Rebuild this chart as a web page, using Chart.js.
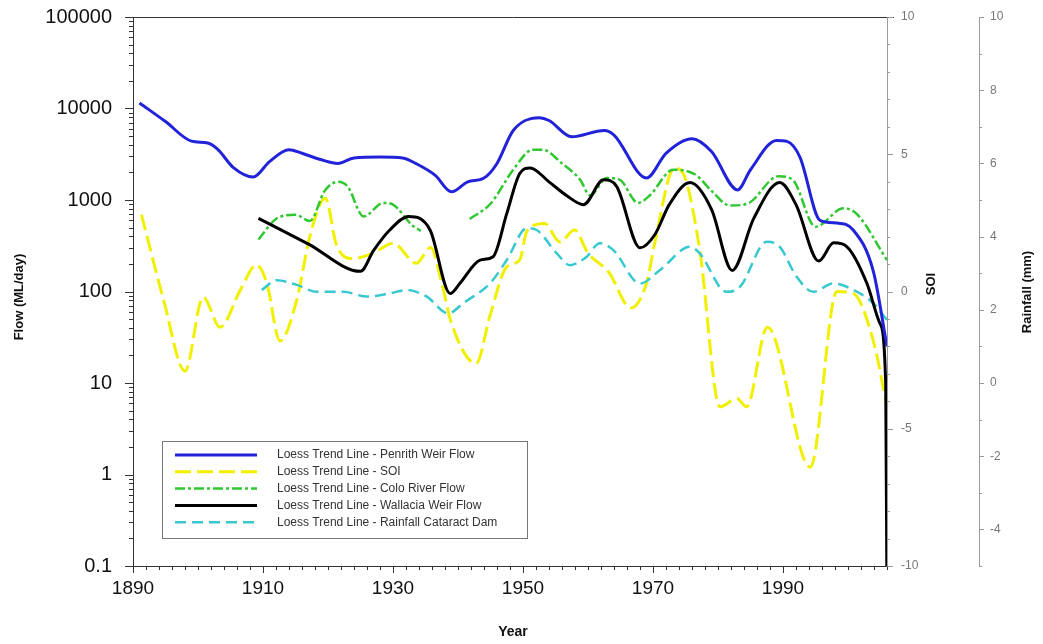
<!DOCTYPE html>
<html><head><meta charset="utf-8">
<script src="https://cdn.jsdelivr.net/npm/chart.js@4"></script>
<style>html,body{margin:0;padding:0;background:#fff;}</style>
</head><body>
<canvas id="c" width="1043" height="644"></canvas>
<script>
// ---------- data ----------
const xTickYears = [1890, 1910, 1930, 1950, 1970, 1990];
const flowTicks = [0.1, 1, 10, 100, 1000, 10000, 100000];
const soiTicks = [-10, -5, 0, 5, 10];
const rainTicks = [-4, -2, 0, 2, 4, 6, 8, 10];

const penrithYears = [1891,1895,1899,1901.5,1903,1905.5,1908.5,1911,1914,1916,1919,1921.5,1924,1928,1931.5,1933.5,1936.5,1939,1941.5,1944,1946,1948.5,1952.5,1954,1957.5,1962.5,1964,1969,1972,1976,1979,1983,1985,1989,1990.6,1992.6,1995.7,1998.3,2000.8,2003.9,2006];
const penrithFlow  = [11500,7200,4400,4200,3600,2240,1780,2630,3550,3240,2750,2510,2880,2950,2880,2510,1860,1230,1580,1740,2510,5750,7940,7400,4900,5750,5130,1740,3240,4680,3390,1290,2140,4470,4370,2950,600,560,470,166,25];

const soiYears = [1891.3,1894.7,1898,1900.8,1903.4,1906.5,1909,1910.6,1912.6,1915.2,1917.2,1919.6,1921.3,1923.8,1927,1930,1933.6,1935.8,1937.5,1939,1942.8,1944.9,1947.5,1949.5,1950.6,1953.3,1955.7,1957.9,1960,1963.2,1966.6,1969,1970.3,1973.3,1975,1977.2,1980.3,1982.9,1984.4,1987.6,1994.2,1998.3,2000.8,2003.9,2006];
const soiVals  = [2.8,-0.3,-2.9,-0.2,-1.3,0.05,0.97,0.3,-1.8,-0.3,2.0,3.4,1.7,1.2,1.4,1.76,1.03,1.6,0.3,-1.16,-2.62,-0.9,0.9,1.15,2.2,2.48,1.8,2.24,1.4,0.7,-0.6,0.3,1.8,4.5,4.1,1.5,-4.2,-3.9,-4.2,-1.3,-6.4,0.0,-0.07,-1.8,-4.2];

const coloYears = [1909.3,1912,1915,1917.2,1919.5,1921.5,1923,1925.5,1928.5,1930,1933,1934.3,1938,1941.8,1945,1948.5,1951.5,1953,1956,1958.8,1960.3,1962.9,1964.9,1967.7,1969.5,1973.1,1976.5,1979,1981.8,1984.5,1989.3,1991.5,1995,1999.3,2001.3,2006];
const coloFlow  = [370,620,690,590,1260,1580,1410,660,930,890,525,460,null,620,910,2140,3550,3550,2510,1660,1120,1740,1660,930,1120,2140,1900,1260,870,910,1820,1660,510,810,710,220];

const wallYears = [1909.3,1917,1925,1927,1929.5,1932.4,1935.7,1938.8,1940.3,1943.4,1945.4,1947.5,1949.5,1951.1,1954,1956.7,1959.3,1962.4,1964.4,1968,1970.3,1972.5,1975.7,1979,1982.2,1985.5,1989.5,1992,1995.5,1997.8,1999.8,2002.9,2004.9,2005.8,2006];
const wallFlow  = [630,330,166,280,470,660,470,95,123,220,240,710,1950,2240,1580,1120,890,1660,1410,300,420,890,1550,790,170,630,1550,890,215,340,310,123,45,10,0.03];

const rainYears = [1909.8,1912.1,1915.2,1918.3,1922.4,1926,1929.5,1932.1,1935.2,1938.5,1940.8,1944.9,1947.5,1950.6,1952.1,1955.2,1957.2,1959.8,1961.8,1963.9,1968,1971.1,1975.7,1977.2,1981.3,1983.4,1987.5,1989.5,1992.1,1994.7,1997.7,1999.8,2003.9,2006];
const rainVals  = [2.54,2.81,2.68,2.49,2.49,2.36,2.45,2.54,2.36,1.90,2.18,2.72,3.36,4.23,4.18,3.54,3.22,3.45,3.82,3.63,2.72,3.09,3.72,3.54,2.49,2.63,3.86,3.72,2.90,2.49,2.72,2.63,2.18,1.72];

const seriesNames = [
  'Loess Trend Line - Penrith Weir Flow',
  'Loess Trend Line - SOI',
  'Loess Trend Line - Colo River Flow',
  'Loess Trend Line - Wallacia Weir Flow',
  'Loess Trend Line - Rainfall Cataract Dam'
];

// ---------- chart ----------
const toPts = (xs, ys) => xs.map((x, i) => ({x: x, y: ys[i]}));
Chart.defaults.font.family = "Arial, 'Liberation Sans', sans-serif";

const line = (ctx, x1, y1, x2, y2) => { ctx.beginPath(); ctx.moveTo(x1, y1); ctx.lineTo(x2, y2); ctx.stroke(); };

const overlay = {
  id: 'overlay',
  afterDraw(chart) {
    const ctx = chart.ctx, a = chart.chartArea;
    const sx = chart.scales.x, sy = chart.scales.y, ss = chart.scales.soi, sr = chart.scales.rain;
    ctx.save();
    ctx.lineWidth = 1;
    // top frame line
    ctx.strokeStyle = '#333';
    line(ctx, a.left, a.top + 0.5, ss.left + 7, a.top + 0.5);
    // x ticks
    for (let yr = 1890; yr <= 2006; yr += 2) {
      const px = Math.round(sx.getPixelForValue(yr)) + 0.5;
      line(ctx, px, a.bottom, px, a.bottom + ((yr - 1890) % 20 === 0 ? 7 : 4));
    }
    // log ticks
    for (let e = -1; e <= 5; e++) {
      for (let m = 1; m < 10; m++) {
        const v = m * Math.pow(10, e);
        if (v > 100000 * 1.0001) break;
        const py = Math.round(sy.getPixelForValue(v)) + 0.5;
        line(ctx, a.left - (m === 1 ? 8 : 4), py, a.left, py);
      }
    }
    // SOI ticks
    ctx.strokeStyle = '#999';
    for (let v = -10; v <= 10; v++) {
      const py = Math.round(ss.getPixelForValue(v)) + 0.5;
      line(ctx, ss.left, py, ss.left + (v % 5 === 0 ? 6 : 3), py);
    }
    // rainfall ticks
    for (let v = -5; v <= 10; v++) {
      const py = Math.round(sr.getPixelForValue(v)) + 0.5;
      line(ctx, sr.left, py, sr.left + (v % 2 === 0 ? 5 : 3), py);
    }
    // axis titles
    ctx.fillStyle = '#111';
    ctx.textAlign = 'center'; ctx.textBaseline = 'middle';
    ctx.font = "bold 13px Arial, 'Liberation Sans', sans-serif";
    const vtext = (t, x, y) => { ctx.save(); ctx.translate(x, y); ctx.rotate(-Math.PI / 2); ctx.fillText(t, 0, 0); ctx.restore(); };
    vtext('Flow (ML/day)', 19, 297);
    vtext('SOI', 931, 284);
    vtext('Rainfall (mm)', 1027, 292);
    ctx.font = "bold 14px Arial, 'Liberation Sans', sans-serif";
    ctx.fillText('Year', (a.left + a.right) / 2 + 3, 632);
    // legend
    const bx = 162, by = 441, bw = 365, bh = 97;
    ctx.fillStyle = '#fff';
    ctx.fillRect(bx, by, bw, bh);
    ctx.strokeStyle = '#777';
    ctx.strokeRect(bx + 0.5, by + 0.5, bw, bh);
    ctx.font = "12px Arial, 'Liberation Sans', sans-serif";
    ctx.textAlign = 'left';
    chart.data.datasets.forEach((ds, i) => {
      const yy = by + 14 + i * 16.8;
      ctx.save();
      ctx.strokeStyle = ds.borderColor;
      ctx.lineWidth = ds.borderWidth;
      ctx.setLineDash(ds.borderDash || []);
      line(ctx, bx + 13, yy, bx + 95, yy);
      ctx.restore();
      ctx.fillStyle = '#333';
      ctx.fillText(ds.label, bx + 115, yy);
    });
    ctx.restore();
  }
};

const fixedTicks = (arr) => (s) => { s.ticks = arr.map(v => ({value: v})); };
const fitV = (w) => (s) => { s.width = w; s.paddingTop = 0; s.paddingBottom = 0; };
const fitH = (h) => (s) => { s.height = h; s.paddingLeft = 0; s.paddingRight = 0; };

new Chart(document.getElementById('c'), {
  type: 'line',
  data: {
    datasets: [
      {label: seriesNames[0], data: toPts(penrithYears, penrithFlow), yAxisID: 'y',
       borderColor: '#2222d8', borderWidth: 3, order: 1},
      {label: seriesNames[1], data: toPts(soiYears, soiVals), yAxisID: 'soi',
       borderColor: '#f0f000', borderWidth: 3, borderDash: [16, 6], order: 5},
      {label: seriesNames[2], data: toPts(coloYears, coloFlow), yAxisID: 'y',
       borderColor: '#30c830', borderWidth: 2.5, borderDash: [10, 3, 3, 3], spanGaps: false, order: 3},
      {label: seriesNames[3], data: toPts(wallYears, wallFlow), yAxisID: 'y',
       borderColor: '#000000', borderWidth: 3, order: 2},
      {label: seriesNames[4], data: toPts(rainYears, rainVals), yAxisID: 'rain',
       borderColor: '#38c8d0', borderWidth: 2.5, borderDash: [11, 6], order: 4}
    ]
  },
  options: {
    responsive: false,
    animation: false,
    layout: {padding: {top: 17, left: 0, right: 0, bottom: 0}},
    elements: {point: {radius: 0}, line: {cubicInterpolationMode: 'monotone', fill: false}},
    plugins: {legend: {display: false}, tooltip: {enabled: false}},
    scales: {
      x: {
        type: 'linear', position: 'bottom', min: 1890, max: 2006,
        afterBuildTicks: fixedTicks(xTickYears),
        ticks: {callback: v => String(v), font: {size: 19}, color: '#111', padding: 11, maxRotation: 0, autoSkip: false},
        grid: {display: false, drawTicks: false},
        border: {display: true, color: '#333', width: 1},
        afterFit: fitH(78)
      },
      y: {
        type: 'logarithmic', position: 'left', min: 0.1, max: 100000,
        afterBuildTicks: fixedTicks(flowTicks),
        ticks: {callback: v => String(v), font: {size: 20}, color: '#111', padding: 21, autoSkip: false},
        grid: {display: false, drawTicks: false},
        border: {display: true, color: '#333', width: 1},
        afterFit: fitV(133)
      },
      soi: {
        type: 'linear', position: 'right', min: -10, max: 10, weight: 0,
        afterBuildTicks: fixedTicks(soiTicks),
        ticks: {font: {size: 12}, color: '#777', padding: 14, autoSkip: false},
        grid: {display: false, drawTicks: false},
        border: {display: true, color: '#999', width: 1},
        afterFit: fitV(92)
      },
      rain: {
        type: 'linear', position: 'right', min: -5, max: 10, weight: 1,
        afterBuildTicks: fixedTicks(rainTicks),
        ticks: {font: {size: 12}, color: '#777', padding: 11, autoSkip: false},
        grid: {display: false, drawTicks: false},
        border: {display: true, color: '#999', width: 1},
        afterFit: fitV(64)
      }
    }
  },
  plugins: [overlay]
});
</script>
</body></html>
